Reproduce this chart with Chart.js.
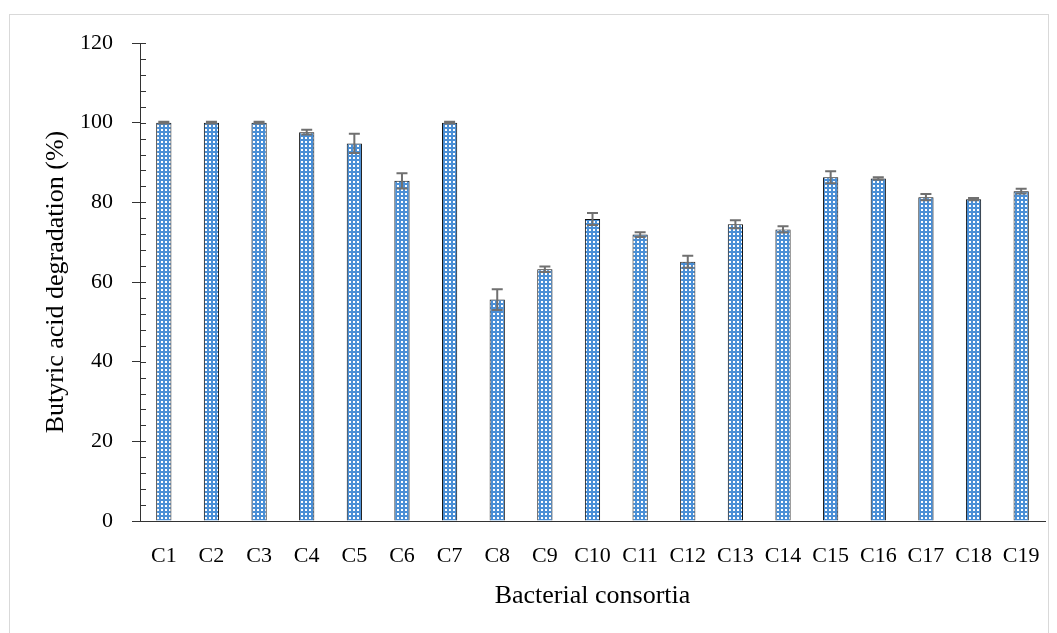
<!DOCTYPE html>
<html>
<head>
<meta charset="utf-8">
<script src="https://cdn.jsdelivr.net/npm/chart.js@4.4.1/dist/chart.umd.min.js"></script>
<style>
  body { margin: 0; background: #fff; }
  #frame { position: absolute; left: 9px; top: 14px; width: 1038px; height: 640px; border: 1px solid #d9d9d9; }
  #wrap { position: absolute; left: 0; top: 0; width: 1057px; height: 633px; }
</style>
</head>
<body>
<div id="frame"></div>
<div id="wrap"><canvas id="chart"></canvas></div>
<script>
const categories = ['C1', 'C2', 'C3', 'C4', 'C5', 'C6', 'C7', 'C8', 'C9', 'C10',
  'C11', 'C12', 'C13', 'C14', 'C15', 'C16', 'C17', 'C18', 'C19'];
const degradation = [100, 100, 100, 97.6, 94.8, 85.4, 100, 55.6, 63.2, 75.8,
  71.9, 65.1, 74.5, 73.2, 86.3, 86.0, 81.3, 80.8, 82.8];
const errors = [0.2, 0.2, 0.2, 0.6, 2.4, 1.9, 0.2, 2.6, 0.7, 1.5,
  0.6, 1.5, 1.0, 0.8, 1.5, 0.3, 0.8, 0.3, 0.6];
const yTicks = [0, 20, 40, 60, 80, 100, 120];

const FONT = '"Liberation Serif", "Times New Roman", serif';

// dotted blue fill like the original
function dotPattern() {
  const c = document.createElement('canvas');
  c.width = 4; c.height = 4;
  const g = c.getContext('2d');
  g.fillStyle = '#4a8fd6';
  g.fillRect(0, 0, 4, 4);
  g.fillStyle = '#ffffff';
  g.fillRect(1, 1, 2, 2);
  return g.createPattern(c, 'repeat');
}

const errorBars = {
  id: 'errorBars',
  afterDatasetsDraw(chart) {
    const { ctx } = chart;
    const y = chart.scales.y;
    const meta = chart.getDatasetMeta(0);
    ctx.save();
    ctx.strokeStyle = '#707070';
    ctx.lineWidth = 2;
    meta.data.forEach((bar, i) => {
      const v = degradation[i], e = errors[i];
      const top = y.getPixelForValue(v + e);
      const bot = y.getPixelForValue(v - e);
      const x = bar.x;
      ctx.beginPath();
      ctx.moveTo(x, top); ctx.lineTo(x, bot);
      ctx.moveTo(x - 5.5, top); ctx.lineTo(x + 5.5, top);
      ctx.moveTo(x - 5.5, bot); ctx.lineTo(x + 5.5, bot);
      ctx.stroke();
    });
    ctx.restore();
  }
};

// minor ticks on the inner side of the y axis
const minorTicks = {
  id: 'minorTicks',
  afterDraw(chart) {
    const { ctx } = chart;
    const y = chart.scales.y;
    const x0 = chart.chartArea.left;
    ctx.save();
    ctx.strokeStyle = '#333';
    ctx.lineWidth = 1;
    for (let v = y.min; v <= y.max; v += 4) {
      const py = Math.round(y.getPixelForValue(v)) + 0.5;
      ctx.beginPath();
      ctx.moveTo(x0, py); ctx.lineTo(x0 + 6, py);
      ctx.stroke();
    }
    ctx.restore();
  }
};

const ctx = document.getElementById('chart').getContext('2d');
new Chart(ctx, {
  type: 'bar',
  data: {
    labels: categories,
    datasets: [{
      data: degradation,
      backgroundColor: dotPattern(),
      borderColor: '#111',
      borderWidth: 1,
      categoryPercentage: 1,
      barPercentage: 0.32
    }]
  },
  options: {
    responsive: true,
    maintainAspectRatio: false,
    animation: false,
    layout: { padding: { left: 0, right: 12, top: 43, bottom: 0 } },
    plugins: { legend: { display: false }, tooltip: { enabled: false } },
    scales: {
      x: {
        grid: { display: false, drawTicks: false },
        border: { display: true, color: '#333', width: 1 },
        ticks: { color: '#000', padding: 22, maxRotation: 0, autoSkip: false, font: { family: FONT, size: 22 } },
        title: { display: true, text: 'Bacterial consortia', color: '#000', padding: { top: 0, bottom: 21 }, font: { family: FONT, size: 26 } },
        afterFit(s) { s.height = 112; s.paddingLeft = 0; s.paddingRight = 0; }
      },
      y: {
        min: 0,
        max: 120,
        afterBuildTicks(s) { s.ticks = yTicks.map(v => ({ value: v })); },
        grid: { drawOnChartArea: false, drawTicks: true, tickLength: 8, color: '#333' },
        border: { display: true, color: '#333', width: 1 },
        ticks: { color: '#000', padding: 19, font: { family: FONT, size: 22 } },
        title: { display: true, text: 'Butyric acid degradation (%)', color: '#000', padding: { top: 41, bottom: 0 }, font: { family: FONT, size: 26 } },
        afterFit(s) { s.width = 140; s.paddingTop = 0; s.paddingBottom = 0; }
      }
    }
  },
  plugins: [errorBars, minorTicks]
});
</script>
</body>
</html>
